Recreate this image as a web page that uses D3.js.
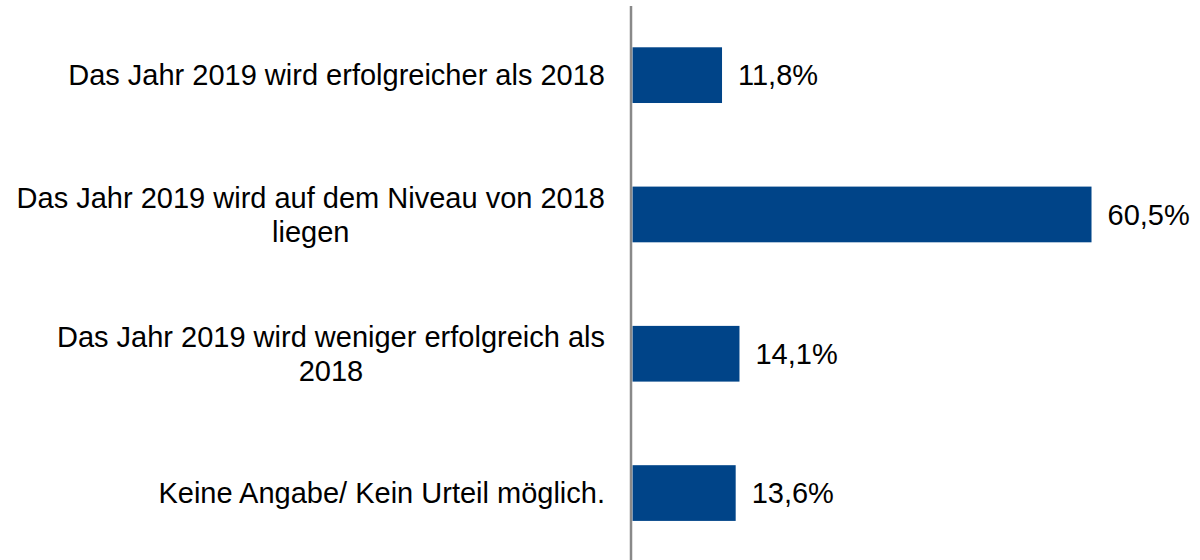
<!DOCTYPE html>
<html>
<head>
<meta charset="utf-8">
<script src="https://cdn.jsdelivr.net/npm/d3@7"></script>
<style>
  body { margin: 0; background: #fff; }
  text { font-family: "Liberation Sans", Arial, sans-serif; fill: #000; }
</style>
</head>
<body>
<div id="chart-area"></div>
<script>
// Data
var categories = [
    "Das Jahr 2019 wird erfolgreicher als 2018",
    "Das Jahr 2019 wird auf dem Niveau von 2018\nliegen",
    "Das Jahr 2019 wird weniger erfolgreich als\n2018",
    "Keine Angabe/ Kein Urteil möglich."
];
var values = [11.8, 60.5, 14.1, 13.6];
var valueLabels = ["11,8%", "60,5%", "14,1%", "13,6%"];

var width = 1200, height = 560;
var axisX = 632.5;
var labelRight = 605;
var fontSize = 29;

var svg = d3.select("#chart-area")
    .append("svg")
        .attr("width", width)
        .attr("height", height);

// Scales
var y = d3.scaleBand()
    .domain(categories)
    .range([5.5, 562.7])
    .paddingInner(0.6)
    .paddingOuter(0.3);

var x = d3.scaleLinear()
    .domain([0, 70])
    .range([axisX, axisX + 7.587 * 70]);

// Bars
svg.selectAll("rect.bar")
    .data(values)
    .enter()
    .append("rect")
        .attr("class", "bar")
        .attr("x", x(0))
        .attr("y", function(d, i){ return y(categories[i]); })
        .attr("width", function(d){ return x(d) - x(0); })
        .attr("height", y.bandwidth())
        .attr("fill", "#004488");

// Value labels
svg.selectAll("text.value")
    .data(values)
    .enter()
    .append("text")
        .attr("class", "value")
        .attr("x", function(d){ return x(d) + 16; })
        .attr("y", function(d, i){ return y(categories[i]) + y.bandwidth() / 2; })
        .attr("dy", "0.35em")
        .attr("font-size", fontSize + "px")
        .text(function(d, i){ return valueLabels[i]; });

// Category axis line
svg.append("line")
    .attr("x1", axisX - 1.5)
    .attr("x2", axisX - 1.5)
    .attr("y1", 6)
    .attr("y2", height)
    .attr("stroke", "#898989")
    .attr("stroke-width", 2.5);

// Category labels: block right-aligned, lines centered within the block
var lineH = 34;
svg.selectAll("text.cat")
    .data(categories)
    .enter()
    .append("text")
        .attr("class", "cat")
        .attr("font-size", fontSize + "px")
        .each(function(d){
            var lines = d.split("\n");
            var cy = y(d) + y.bandwidth() / 2;
            var self = d3.select(this);
            var spans = lines.map(function(line, j){
                return self.append("tspan")
                    .attr("y", cy + (j - (lines.length - 1) / 2) * lineH)
                    .attr("dy", "0.35em")
                    .text(line);
            });
            var maxW = d3.max(spans, function(s){ return s.node().getComputedTextLength(); });
            spans.forEach(function(s){
                s.attr("x", labelRight - maxW / 2).attr("text-anchor", "middle");
            });
        });
</script>
</body>
</html>
